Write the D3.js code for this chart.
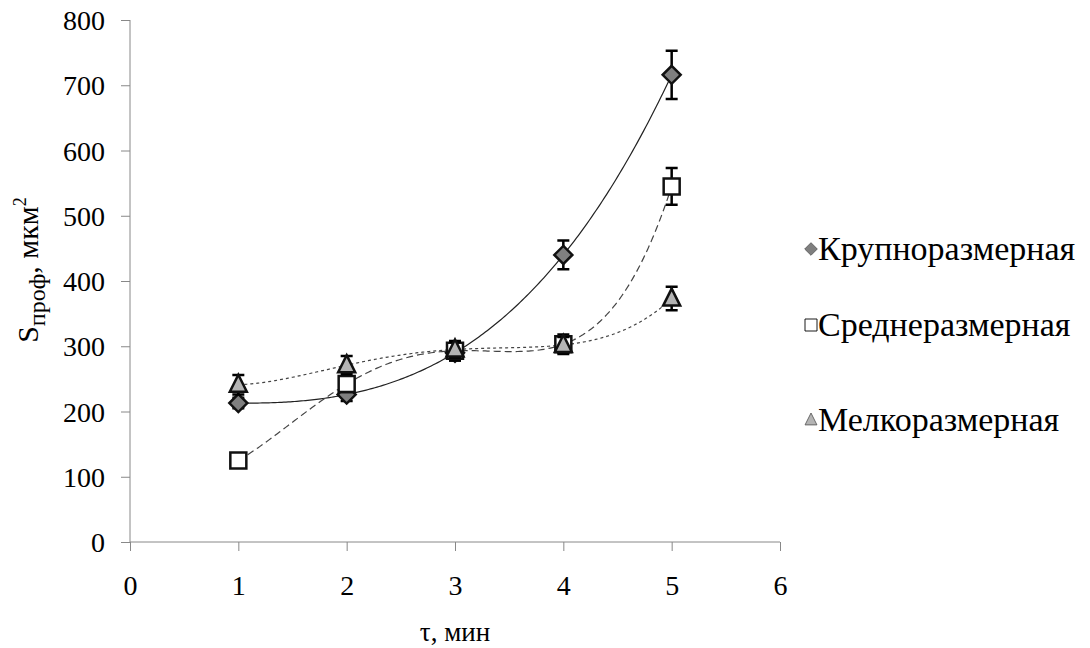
<!DOCTYPE html>
<html><head><meta charset="utf-8">
<script src="https://cdn.jsdelivr.net/npm/d3@7"></script>
<style>
html,body{margin:0;padding:0;background:#fff;}
</style></head>
<body>
<svg id="chart" width="1090" height="648" font-family="Liberation Serif"></svg>
<script>
const times = [1, 2, 3, 4, 5];
const seriesNames = ["Крупноразмерная", "Среднеразмерная", "Мелкоразмерная"];
const largeVals = [213, 226, 290, 440, 716];
const mediumVals = [125, 242, 293, 303, 545];
const smallVals = [241, 271, 295, 302, 373];
const largeErr = [8, 10, 12, 22, 37];
const mediumErr = [8, 12, 15, 15, 28];
const smallErr = [15, 14, 12, 12, 18];
const xTicks = [0, 1, 2, 3, 4, 5, 6];
const yTicks = [0, 100, 200, 300, 400, 500, 600, 700, 800];

const svg = d3.select("#chart");
const FONT = "Liberation Serif";
const x = d3.scaleLinear().domain([0, 6]).range([130, 780]);
const y = d3.scaleLinear().domain([0, 800]).range([542, 20]);

function polyfit(xs, ys, deg) {
  const n = deg + 1;
  const A = Array.from({length: n}, () => new Array(n + 1).fill(0));
  for (let r = 0; r < n; r++) {
    for (let c = 0; c < n; c++) A[r][c] = d3.sum(xs, xi => Math.pow(xi, r + c));
    A[r][n] = d3.sum(xs, (xi, i) => ys[i] * Math.pow(xi, r));
  }
  for (let i = 0; i < n; i++) {
    let p = i;
    for (let k = i + 1; k < n; k++) if (Math.abs(A[k][i]) > Math.abs(A[p][i])) p = k;
    [A[i], A[p]] = [A[p], A[i]];
    for (let k = i + 1; k < n; k++) {
      const f = A[k][i] / A[i][i];
      for (let j = i; j <= n; j++) A[k][j] -= f * A[i][j];
    }
  }
  const c = new Array(n).fill(0);
  for (let i = n - 1; i >= 0; i--) {
    let s = A[i][n];
    for (let j = i + 1; j < n; j++) s -= A[i][j] * c[j];
    c[i] = s / A[i][i];
  }
  return xv => c.reduce((acc, ci, i) => acc + ci * Math.pow(xv, i), 0);
}

const xAxis = d3.axisBottom(x).tickValues(xTicks).tickSize(9).tickPadding(24).tickFormat(d3.format("d"));
const gx = svg.append("g").attr("transform", `translate(0,${y(0)})`).call(xAxis);
gx.attr("font-family", FONT);
gx.select(".domain").attr("stroke", "#888").attr("d", `M${x(0)},0H${x(6)}`);
gx.selectAll(".tick line").attr("stroke", "#888");
gx.selectAll(".tick text").attr("font-family", FONT).attr("font-size", 28).attr("fill", "#000");

const yAxis = d3.axisLeft(y).tickValues(yTicks).tickSize(9).tickPadding(16).tickFormat(d3.format("d"));
const gy = svg.append("g").attr("transform", `translate(${x(0)},0)`).call(yAxis);
gy.attr("font-family", FONT);
gy.select(".domain").attr("stroke", "#888").attr("d", `M0,${y(0)}V${y(800)}`);
gy.selectAll(".tick line").attr("stroke", "#888");
gy.selectAll(".tick text").attr("font-family", FONT).attr("font-size", 28).attr("fill", "#000")
  .attr("dy", "0.34em");

const series = [
  {name: seriesNames[0], vals: largeVals, err: largeErr, dash: null, shape: "diamond", fill: "#7f7f7f"},
  {name: seriesNames[1], vals: mediumVals, err: mediumErr, dash: "7,4", shape: "square", fill: "#ffffff"},
  {name: seriesNames[2], vals: smallVals, err: smallErr, dash: "3,3", shape: "triangle", fill: "#b4b4b4"}
];

const line = d3.line().x(d => x(d[0])).y(d => y(d[1]));
series.forEach(s => {
  const f = polyfit(times, s.vals, 4);
  const pts = d3.range(1, 5.0001, 0.02).map(t => [t, f(t)]);
  svg.append("path").attr("d", line(pts)).attr("fill", "none")
    .attr("stroke", s.dash ? "#444" : "#222").attr("stroke-width", 1.2)
    .attr("stroke-dasharray", s.dash);
});

function markerPath(shape) {
  if (shape === "diamond") return "M0,-9L9,0L0,9L-9,0Z";
  if (shape === "square") return "M-8,-8H8V8H-8Z";
  return "M0,-10L8.5,7H-8.5Z";
}

series.forEach(s => {
  const g = svg.append("g");
  times.forEach((t, i) => {
    const cx = x(t), top = y(s.vals[i] + s.err[i]), bot = y(s.vals[i] - s.err[i]);
    g.append("path").attr("d", `M${cx},${top}V${bot}M${cx - 6},${top}H${cx + 6}M${cx - 6},${bot}H${cx + 6}`)
      .attr("stroke", "#000").attr("stroke-width", 2.5).attr("fill", "none");
  });
  g.selectAll(".m").data(times).enter().append("path")
    .attr("transform", (t, i) => `translate(${x(t)},${y(s.vals[i])})`)
    .attr("d", markerPath(s.shape)).attr("fill", s.fill)
    .attr("stroke", "#111").attr("stroke-width", 2.5);
});

const legY = [249, 325, 420];
series.forEach((s, i) => {
  const lg = svg.append("g").attr("transform", `translate(811,${legY[i]})`);
  const sc = s.shape === "square" ? 0.75 : 0.7;
  lg.append("path").attr("d", markerPath(s.shape)).attr("transform", `scale(${sc})`)
    .attr("fill", s.fill).attr("stroke", s.shape === "square" ? "#000" : "#555").attr("stroke-width", 1.2);
  lg.append("text").attr("x", 7).attr("y", 11).attr("font-family", FONT).attr("font-size", 34).text(s.name);
});

svg.append("text").attr("x", x(3)).attr("y", 641).attr("text-anchor", "middle")
  .attr("font-family", FONT).attr("font-size", 27).text("τ, мин");
const yt = svg.append("text").attr("transform", "translate(38,270) rotate(-90)")
  .attr("text-anchor", "middle").attr("font-family", FONT).attr("font-size", 30);
yt.append("tspan").text("S");
yt.append("tspan").attr("font-size", 24).attr("dy", 7).text("проф");
yt.append("tspan").attr("dy", -7).text(", мкм");
yt.append("tspan").attr("font-size", 18).attr("dy", -12).text("2");
</script>
</body></html>
